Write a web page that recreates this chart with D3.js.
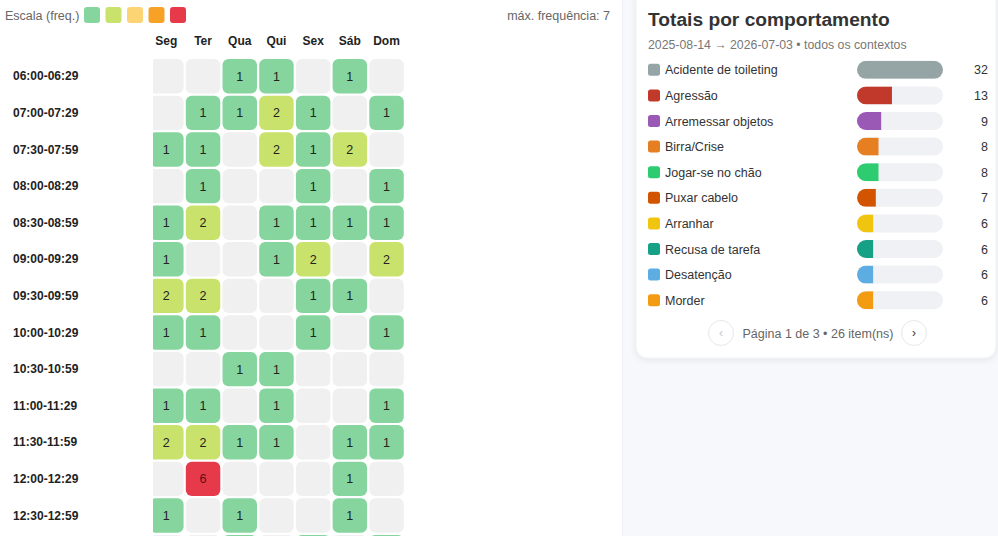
<!DOCTYPE html>
<html>
<head>
<meta charset="utf-8">
<script src="https://cdn.jsdelivr.net/npm/d3@7"></script>
<style>
  body { margin: 0; background: #fff; font-family: "Liberation Sans", Arial, sans-serif; }
  svg { display: block; }
</style>
</head>
<body>
<div id="chart-area"></div>
<script>
// heatmap data
let days = ["Seg", "Ter", "Qua", "Qui", "Sex", "Sáb", "Dom"];
let slots = ["06:00-06:29", "07:00-07:29", "07:30-07:59", "08:00-08:29", "08:30-08:59",
             "09:00-09:29", "09:30-09:59", "10:00-10:29", "10:30-10:59", "11:00-11:29",
             "11:30-11:59", "12:00-12:29", "12:30-12:59", "13:00-13:29"];
let counts = [
  [0, 0, 1, 1, 0, 1, 0],
  [0, 1, 1, 2, 1, 0, 1],
  [1, 1, 0, 2, 1, 2, 0],
  [0, 1, 0, 0, 1, 0, 1],
  [1, 2, 0, 1, 1, 1, 1],
  [1, 0, 0, 1, 2, 0, 2],
  [2, 2, 0, 0, 1, 1, 0],
  [1, 1, 0, 0, 1, 0, 1],
  [0, 0, 1, 1, 0, 0, 0],
  [1, 1, 0, 1, 0, 0, 1],
  [2, 2, 1, 1, 0, 1, 1],
  [0, 6, 0, 0, 0, 1, 0],
  [1, 0, 1, 0, 0, 1, 0],
  [0, 0, 1, 0, 1, 0, 1]
];
let maxFreq = 7;
let scaleColors = ["#86d59e", "#c9e26c", "#fdd474", "#f7a127", "#e63a4a"];

// totals panel data
let behaviours = ["Acidente de toileting", "Agressão", "Arremessar objetos", "Birra/Crise",
                  "Jogar-se no chão", "Puxar cabelo", "Arranhar", "Recusa de tarefa",
                  "Desatenção", "Morder"];
let totals = [32, 13, 9, 8, 8, 7, 6, 6, 6, 6];
let behaviourColors = ["#95a5a6", "#c0392b", "#9b59b6", "#e67e22", "#2ecc71",
                       "#d35400", "#f1c40f", "#16a085", "#5dade2", "#f39c12"];

let pageHeight = 536;

let svg = d3.select("#chart-area")
  .append("svg")
  .attr("width", 998)
  .attr("height", pageHeight);

let defs = svg.append("defs");

// right pane background
svg.append("rect")
  .attr("x", 622).attr("y", 0).attr("width", 376).attr("height", pageHeight)
  .attr("fill", "#f6f8fb");
svg.append("line")
  .attr("x1", 622.5).attr("x2", 622.5).attr("y1", 0).attr("y2", pageHeight)
  .attr("stroke", "#edf0f4");

/*
*   heatmap
*/
let x = d3.scaleBand()
  .domain(days)
  .range([148, 404.9])
  .paddingInner(0.06)
  .paddingOuter(0.03);

let y = d3.scaleBand()
  .domain(slots)
  .range([58, 58 + slots.length * 36.6])
  .paddingInner(0.06)
  .paddingOuter(0.03);

let color = d3.scaleThreshold()
  .domain([0.2, 0.4, 0.6, 0.8])
  .range(scaleColors);

// legend
svg.append("text")
  .attr("x", 5).attr("y", 20)
  .attr("font-size", 12.5).attr("fill", "#666")
  .text("Escala (freq.)");

svg.selectAll(".swatch")
  .data(scaleColors)
  .enter().append("rect")
  .attr("class", "swatch")
  .attr("x", function(d, i) { return 84 + i * 21.5; })
  .attr("y", 7)
  .attr("width", 16).attr("height", 16)
  .attr("rx", 3)
  .attr("fill", function(d) { return d; });

svg.append("text")
  .attr("x", 610).attr("y", 20)
  .attr("text-anchor", "end")
  .attr("font-size", 12.5).attr("fill", "#666")
  .text("máx. frequência: " + maxFreq);

// day headers
svg.selectAll(".day")
  .data(days)
  .enter().append("text")
  .attr("class", "day")
  .attr("x", function(d) { return x(d) + x.bandwidth() / 2; })
  .attr("y", 45)
  .attr("text-anchor", "middle")
  .attr("font-size", 12).attr("font-weight", "bold").attr("fill", "#222")
  .text(function(d) { return d; });

// row labels (only the ones inside the visible window)
function visible(slot) {
  return y(slot) + y.bandwidth() / 2 + 4 < pageHeight;
}

svg.selectAll(".slot")
  .data(slots.filter(visible))
  .enter().append("text")
  .attr("class", "slot")
  .attr("x", 13)
  .attr("y", function(d) { return y(d) + y.bandwidth() / 2 + 4; })
  .attr("font-size", 12).attr("font-weight", "bold").attr("fill", "#222")
  .text(function(d) { return d; });

defs.append("clipPath").attr("id", "grid-clip")
  .append("rect")
  .attr("x", 153).attr("y", 50).attr("width", 460).attr("height", 500);

let cells = [];
counts.forEach(function(row, i) {
  row.forEach(function(v, j) {
    cells.push({slot: slots[i], day: days[j], value: v});
  });
});

let grid = svg.append("g").attr("clip-path", "url(#grid-clip)");

grid.selectAll("rect")
  .data(cells)
  .enter().append("rect")
  .attr("x", function(d) { return x(d.day); })
  .attr("y", function(d) { return y(d.slot); })
  .attr("width", x.bandwidth())
  .attr("height", y.bandwidth())
  .attr("rx", 6)
  .attr("fill", function(d) {
    return d.value > 0 ? color(d.value / maxFreq) : "#f0f0f0";
  });

grid.selectAll("text")
  .data(cells.filter(function(d) { return d.value > 0 && visible(d.slot); }))
  .enter().append("text")
  .attr("x", function(d) { return x(d.day) + x.bandwidth() / 2; })
  .attr("y", function(d) { return y(d.slot) + y.bandwidth() / 2 + 4.5; })
  .attr("text-anchor", "middle")
  .attr("font-size", 12.5)
  .attr("fill", function(d) { return d.value / maxFreq > 0.8 ? "#5a1016" : "#222"; })
  .text(function(d) { return d.value; });

/*
*   totals card
*/
let shadow = defs.append("filter").attr("id", "shadow")
  .attr("x", "-10%").attr("y", "-10%").attr("width", "120%").attr("height", "130%");
shadow.append("feDropShadow")
  .attr("dx", 0).attr("dy", 2).attr("stdDeviation", 3)
  .attr("flood-color", "#000").attr("flood-opacity", 0.07);

let card = svg.append("g").attr("transform", "translate(636,0)");

card.append("rect")
  .attr("x", 0).attr("y", -12).attr("width", 360).attr("height", 370)
  .attr("rx", 11)
  .attr("fill", "#fff")
  .attr("stroke", "#eef0f3")
  .attr("filter", "url(#shadow)");

card.append("text")
  .attr("x", 12).attr("y", 26)
  .attr("font-size", 19.2).attr("font-weight", "bold").attr("fill", "#333")
  .text("Totais por comportamento");

card.append("text")
  .attr("x", 12).attr("y", 49)
  .attr("font-size", 12.3).attr("fill", "#777")
  .text("2025-08-14 → 2026-07-03 • todos os contextos");

let rowY = d3.scaleBand()
  .domain(behaviours)
  .range([57, 57 + behaviours.length * 25.6]);

let barW = d3.scaleLinear()
  .domain([0, d3.max(totals)])
  .range([0, 86]);

let items = card.selectAll(".item")
  .data(behaviours)
  .enter().append("g")
  .attr("class", "item")
  .attr("transform", function(d) { return "translate(0," + (rowY(d) + rowY.bandwidth() / 2) + ")"; });

items.append("rect")
  .attr("x", 12).attr("y", -6)
  .attr("width", 12).attr("height", 12)
  .attr("rx", 2.5)
  .attr("fill", function(d, i) { return behaviourColors[i]; });

items.append("text")
  .attr("x", 29).attr("y", 4.5)
  .attr("font-size", 12.5).attr("fill", "#333")
  .text(function(d) { return d; });

// rounded track, fill clipped to it (flat right edge)
defs.append("clipPath").attr("id", "track")
  .append("rect")
  .attr("x", 221).attr("y", -9).attr("width", 86).attr("height", 18).attr("rx", 9);

items.append("rect")
  .attr("x", 221).attr("y", -9).attr("width", 86).attr("height", 18).attr("rx", 9)
  .attr("fill", "#eff1f4");

items.append("rect")
  .attr("x", 221).attr("y", -9)
  .attr("width", function(d, i) { return barW(totals[i]); })
  .attr("height", 18)
  .attr("fill", function(d, i) { return behaviourColors[i]; })
  .attr("clip-path", "url(#track)");

items.append("text")
  .attr("x", 352).attr("y", 4.5)
  .attr("text-anchor", "end")
  .attr("font-size", 12.5).attr("fill", "#333")
  .text(function(d, i) { return totals[i]; });

// pagination
let pagerY = 333;
card.append("circle")
  .attr("cx", 85).attr("cy", pagerY).attr("r", 12.5)
  .attr("fill", "#fff").attr("stroke", "#e6e8ec");
card.append("text")
  .attr("x", 85).attr("y", pagerY + 4)
  .attr("text-anchor", "middle").attr("font-size", 12).attr("fill", "#c4c8ce")
  .text("‹");
card.append("text")
  .attr("x", 182).attr("y", pagerY + 4.5)
  .attr("text-anchor", "middle").attr("font-size", 12.5).attr("fill", "#666")
  .text("Página 1 de 3 • 26 item(ns)");
card.append("circle")
  .attr("cx", 278).attr("cy", pagerY).attr("r", 12.5)
  .attr("fill", "#fff").attr("stroke", "#e6e8ec");
card.append("text")
  .attr("x", 278).attr("y", pagerY + 4)
  .attr("text-anchor", "middle").attr("font-size", 12).attr("fill", "#333")
  .text("›");
</script>
</body>
</html>
